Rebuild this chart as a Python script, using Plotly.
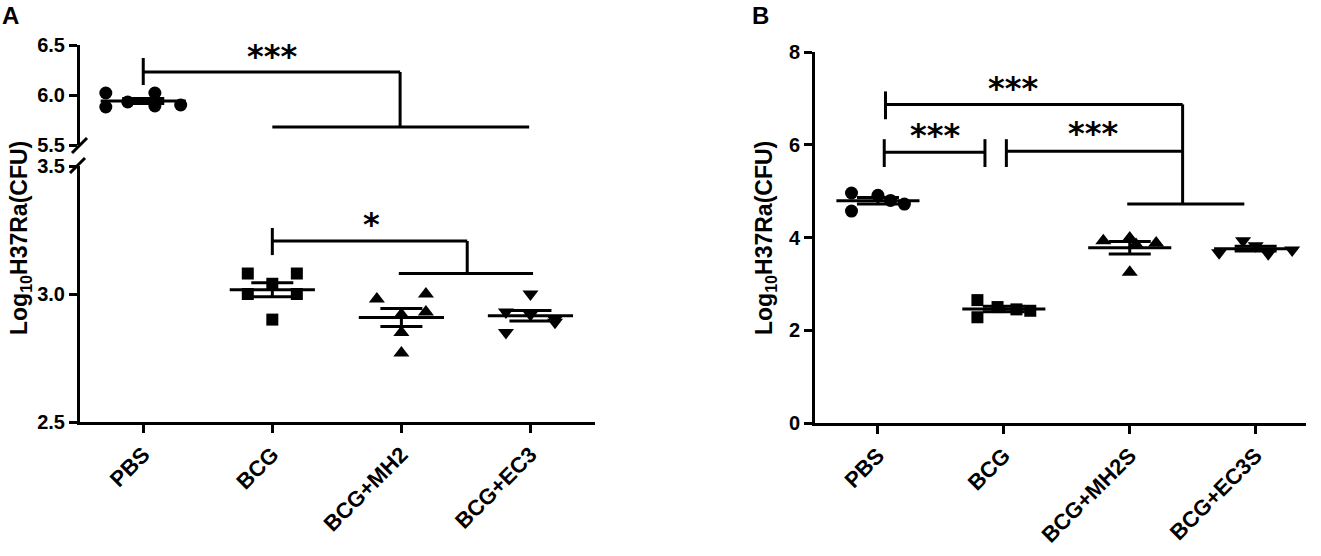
import numpy as np
import plotly.graph_objects as go

# ---- data (log10 CFU per animal) ----
A_GROUPS = ["PBS", "BCG", "BCG+MH2", "BCG+EC3"]
A_PBS = [6.02, 5.88, 5.93, 6.02, 5.89, 5.90]
A_BCG = [3.08, 3.08, 3.04, 3.00, 3.00, 2.90]
A_MH2 = [2.98, 3.00, 2.93, 2.92, 2.85, 2.77]
A_EC3 = [3.00, 2.93, 2.92, 2.89, 2.85, 2.90]

B_GROUPS = ["PBS", "BCG", "BCG+MH2S", "BCG+EC3S"]
B_PBS = [4.96, 4.57, 4.91, 4.80, 4.72]
B_BCG = [2.65, 2.28, 2.50, 2.45, 2.42]
B_MH2S = [3.93, 3.99, 3.88, 3.25, 3.85]
B_EC3S = [3.67, 3.93, 3.65, 3.73, 3.82]

A_TICKS_TOP = [5.5, 6.0, 6.5]
A_TICKS_BOT = [2.5, 3.0, 3.5]
B_TICKS = [0, 2, 4, 6, 8]

# ---- layout constants ----
W, H = 1321, 556
FONT = "Liberation Sans, Arial, sans-serif"
STAR_FONT = "DejaVu Sans, sans-serif"
SYMBOLS = ["circle", "square", "triangle-up", "triangle-down"]
SIZES = [13, 12, 14, 14]
# horizontal scatter of overlapping points (category units)
A_SPREAD = [
    [-0.29, -0.29, -0.12, 0.09, 0.09, 0.29],
    [-0.19, 0.19, 0.0, -0.19, 0.19, 0.0],
    [-0.19, 0.19, 0.19, 0.0, 0.0, 0.0],
    [0.0, -0.19, 0.0, 0.19, -0.19, 0.19],
]
B_SPREAD = [
    [-0.21, -0.21, 0.0, 0.1, 0.21],
    [-0.21, -0.21, -0.05, 0.1, 0.21],
    [-0.21, 0.0, 0.21, 0.0, 0.05],
    [-0.29, -0.1, 0.1, 0.29, 0.0],
]
MEAN_HALF = 0.33


def px(x):
    return x / W


def py(y):
    return 1 - y / H


def add_group(fig, groups_vals, spread, xa, ya_of):
    """points + mean line + SEM bars for one panel. ya_of(mean) -> yaxis name"""
    for i, vals in enumerate(groups_vals):
        vals = np.asarray(vals)
        m = vals.mean()
        sem = vals.std(ddof=1) / np.sqrt(len(vals))
        ya = ya_of(m)
        fig.add_trace(go.Scatter(
            x=[i + o for o in spread[i]], y=vals, mode="markers",
            xaxis=xa, yaxis=ya,
            marker=dict(symbol=SYMBOLS[i], size=SIZES[i], color="black"),
            showlegend=False, hoverinfo="y",
        ))
        fig.add_trace(go.Scatter(
            x=[i - MEAN_HALF, i + MEAN_HALF], y=[m, m], mode="lines",
            xaxis=xa, yaxis=ya, line=dict(color="black", width=3),
            showlegend=False, hoverinfo="skip",
        ))
        fig.add_trace(go.Scatter(
            x=[i], y=[m], mode="markers", xaxis=xa, yaxis=ya,
            marker=dict(size=1, color="rgba(0,0,0,0)"),
            error_y=dict(type="data", array=[sem], width=21, thickness=3, color="black"),
            showlegend=False, hoverinfo="skip",
        ))


fig = go.Figure()

add_group(fig, [A_PBS, A_BCG, A_MH2, A_EC3], A_SPREAD, "x",
          lambda m: "y2" if m > 4 else "y")
add_group(fig, [B_PBS, B_BCG, B_MH2S, B_EC3S], B_SPREAD, "x2",
          lambda m: "y3")


# ---- significance brackets ----
def bracket(xref, yref, pts):
    for (x0, y0), (x1, y1) in zip(pts[:-1], pts[1:]):
        fig.add_shape(type="line", xref=xref, yref=yref, x0=x0, y0=y0, x1=x1, y1=y1,
                      line=dict(color="black", width=3))


# panel A
bracket("x", "y2", [(0.0, 6.37), (0.0, 6.10)])
bracket("x", "y2", [(0.0, 6.23), (1.99, 6.23), (1.99, 5.68)])
bracket("x", "y2", [(1.0, 5.68), (2.99, 5.68)])
bracket("x", "y", [(1.0, 3.258), (1.0, 3.152)])
bracket("x", "y", [(1.0, 3.207), (2.51, 3.207), (2.51, 3.08)])
bracket("x", "y", [(1.98, 3.08), (3.02, 3.08)])
# panel B
bracket("x2", "y3", [(0.06, 7.15), (0.06, 6.55)])
bracket("x2", "y3", [(0.06, 6.87), (2.42, 6.87), (2.42, 4.72)])
bracket("x2", "y3", [(1.98, 4.72), (2.91, 4.72)])
bracket("x2", "y3", [(0.05, 6.12), (0.05, 5.52)])
bracket("x2", "y3", [(0.05, 5.84), (0.85, 5.84)])
bracket("x2", "y3", [(0.85, 6.12), (0.85, 5.52)])
bracket("x2", "y3", [(1.02, 6.12), (1.02, 5.52)])
bracket("x2", "y3", [(1.02, 5.86), (2.42, 5.86)])

# axis break marks on panel A
for (x0, y0, x1, y1) in [(72, 153, 87, 138), (70, 173, 85, 158)]:
    fig.add_shape(type="line", xref="paper", yref="paper",
                  x0=px(x0), y0=py(y0), x1=px(x1), y1=py(y1),
                  line=dict(color="black", width=3))

stars = [
    ("x", "y2", 1.0, 6.43, "***"),
    ("x", "y", 1.77, 3.29, "*"),
    ("x2", "y3", 1.07, 7.30, "***"),
    ("x2", "y3", 0.45, 6.29, "***"),
    ("x2", "y3", 1.71, 6.33, "***"),
]
for xr, yr, x, y, t in stars:
    fig.add_annotation(x=x, y=y, xref=xr, yref=yr, text=t, showarrow=False,
                       yanchor="middle", yshift=-4,
                       font=dict(family=STAR_FONT, size=32, color="black", weight="bold"))

for x, y, t in [(10, 15, "A"), (760, 15, "B")]:
    fig.add_annotation(x=px(x), y=py(y), xref="paper", yref="paper", text=t,
                       showarrow=False, xanchor="center", yanchor="middle",
                       font=dict(family=FONT, size=24, color="black", weight="bold"))

for x in [20, 765]:
    fig.add_annotation(x=px(x), y=py(238), xref="paper", yref="paper",
                       text="Log<sub>10</sub>H37Ra(CFU)", textangle=-90,
                       showarrow=False, xanchor="center", yanchor="middle",
                       font=dict(family=FONT, size=23, color="black", weight="bold"))

axis_common = dict(showline=True, linecolor="black", linewidth=3, ticks="outside",
                   ticklen=8, tickwidth=3, tickcolor="black", showgrid=False,
                   zeroline=False, automargin=False,
                   tickfont=dict(family=FONT, size=20, color="black", weight="bold"))

fig.update_layout(
    template="none",
    width=W, height=H, margin=dict(l=0, r=0, t=0, b=0),
    paper_bgcolor="white", plot_bgcolor="white", showlegend=False,
    xaxis=dict(**axis_common, domain=[px(80), px(595)], range=[-0.49, 3.5],
               anchor="y", tickvals=list(range(len(A_GROUPS))), ticktext=A_GROUPS,
               tickangle=-45),
    yaxis=dict(**axis_common, domain=[py(422), py(166)], range=[2.5, 3.5],
               anchor="x", tickvals=A_TICKS_BOT, tickformat=".1f"),
    yaxis2=dict(**axis_common, domain=[py(145), py(45)], range=[5.5, 6.5],
                anchor="x", tickvals=A_TICKS_TOP, tickformat=".1f"),
    xaxis2=dict(**axis_common, domain=[px(815), px(1306)], range=[-0.5, 3.4],
                anchor="y3", tickvals=list(range(len(B_GROUPS))), ticktext=B_GROUPS,
                tickangle=-45),
    yaxis3=dict(**axis_common, domain=[py(423), py(52)], range=[0, 8],
                anchor="x2", tickvals=B_TICKS),
)
fig.update_layout(
    xaxis_tickfont=dict(family=FONT, size=22, color="black", weight="bold"),
    xaxis2_tickfont=dict(family=FONT, size=22, color="black", weight="bold"),
)

# drop the default 8px body margin so the figure sits flush in the window
fig.write_html("out.html", config={"displayModeBar": False},
               post_script="document.body.style.margin='0';")
